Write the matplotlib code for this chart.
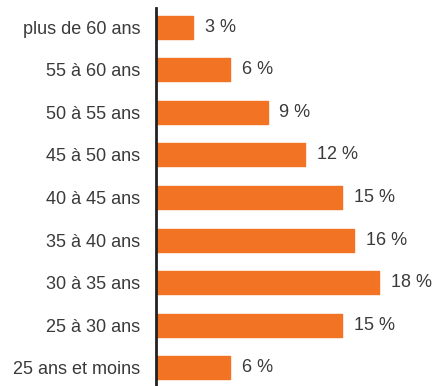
import matplotlib.pyplot as plt
import numpy as np

categories = [
    "plus de 60 ans",
    "55 à 60 ans",
    "50 à 55 ans",
    "45 à 50 ans",
    "40 à 45 ans",
    "35 à 40 ans",
    "30 à 35 ans",
    "25 à 30 ans",
    "25 ans et moins",
]
values = [3, 6, 9, 12, 15, 16, 18, 15, 6]

BAR_COLOR = "#F37325"
TEXT_COLOR = "#3a3a3a"

plt.rcParams["font.family"] = ["Liberation Sans", "DejaVu Sans"]

fig = plt.figure(figsize=(4.37, 3.86), dpi=100)
ax = fig.add_axes([156 / 437, 0.0, 1 - 156 / 437, 1 - 8 / 386])

y = np.arange(len(categories))
bars = ax.barh(y, values, height=0.54, color=BAR_COLOR,
               edgecolor=BAR_COLOR, linewidth=1.0, zorder=2)
for b in bars:
    b.set_joinstyle("round")

for yi, v in zip(y, values):
    ax.text(v + 0.95, yi, f"{v} %", va="center", ha="left",
            fontsize=13, color=TEXT_COLOR)

ax.set_xlim(0, 281 / 12.4)
ax.set_ylim(8 + 18 / 42.6, -19 / 42.6)

ax.set_yticks(y)
ax.set_yticklabels(categories, fontsize=13, color=TEXT_COLOR)
ax.tick_params(axis="y", length=0, pad=11.5)
ax.set_xticks([])

for side in ["top", "right", "bottom"]:
    ax.spines[side].set_visible(False)
ax.spines["left"].set_linewidth(2)
ax.spines["left"].set_color("#222222")
ax.spines["left"].set_zorder(3)

fig.savefig("out.png", dpi=100)
